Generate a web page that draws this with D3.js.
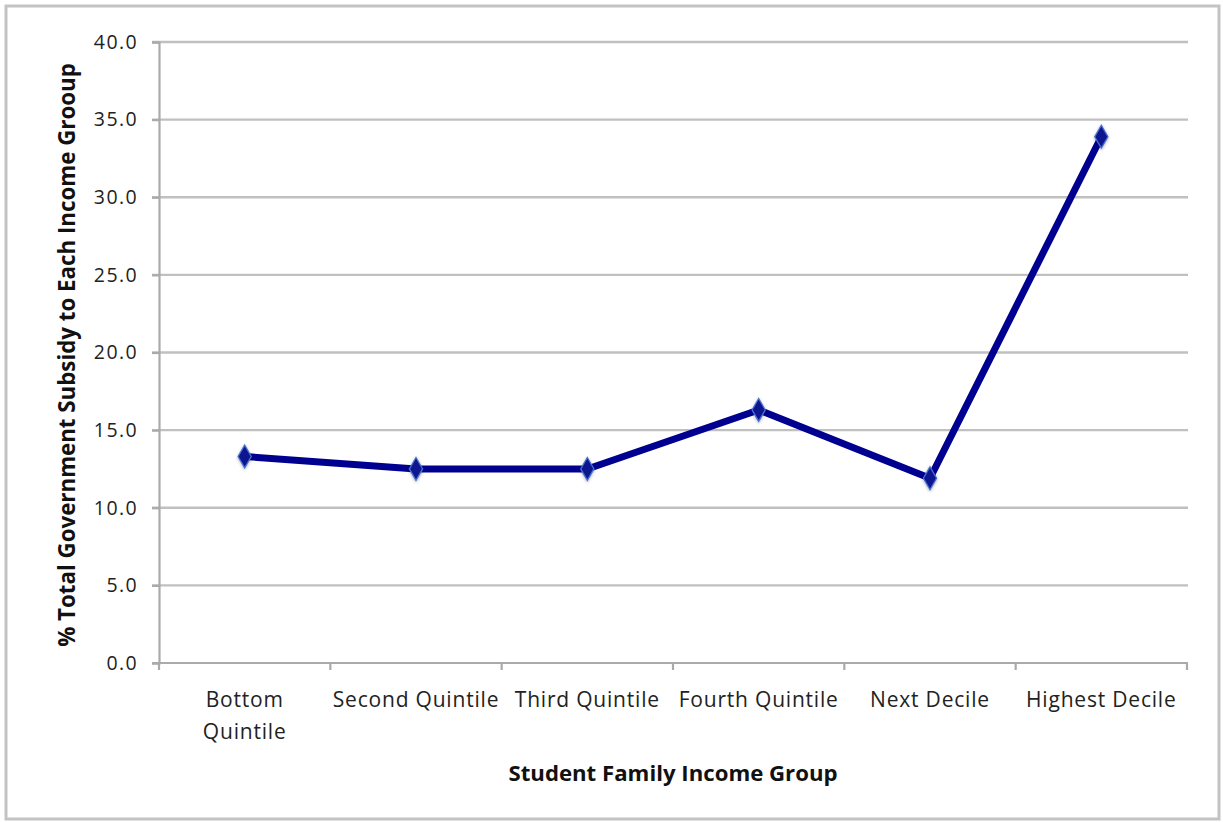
<!DOCTYPE html>
<html>
<head>
<meta charset="utf-8">
<script src="https://cdn.jsdelivr.net/npm/d3@7"></script>
<style>
  html, body { margin: 0; padding: 0; background: #fff; }
  svg { display: block; font-family: "Open Sans", sans-serif; }
</style>
</head>
<body>
<svg id="chart" width="1223" height="822"></svg>
<script>
const categories = ["Bottom Quintile", "Second Quintile", "Third Quintile", "Fourth Quintile", "Next Decile", "Highest Decile"];
const categoryLines = [["Bottom", "Quintile"], ["Second Quintile"], ["Third Quintile"], ["Fourth Quintile"], ["Next Decile"], ["Highest Decile"]];
const values = [13.3, 12.5, 12.5, 16.3, 11.9, 33.9];
const yTicks = [0, 5, 10, 15, 20, 25, 30, 35, 40];
const xTitle = "Student Family Income Group";
const yTitle = "% Total Government Subsidy to Each Income Grooup";

const svg = d3.select("#chart");
const W = 1223, H = 822;
const m = { left: 159, right: 1187, top: 42, bottom: 663 };

// outer frame
svg.append("rect").attr("x", 6).attr("y", 6).attr("width", W - 10).attr("height", H - 9)
  .attr("fill", "#fff").attr("stroke", "#c3c3c3").attr("stroke-width", 3);

const x = d3.scaleBand().domain(categories).range([m.left, m.right]).padding(0);
const y = d3.scaleLinear().domain([0, 40]).range([m.bottom, m.top]);

// gridlines
svg.append("g").selectAll("line").data(yTicks.filter(d => d > 0)).join("line")
  .attr("x1", m.left - 7).attr("x2", m.right + 1)
  .attr("y1", d => y(d)).attr("y2", d => y(d))
  .attr("stroke", "#c0c0c0").attr("stroke-width", 2.4);

// y axis
const yAxis = svg.append("g").attr("transform", `translate(${m.left},0)`)
  .call(d3.axisLeft(y).tickValues(yTicks).tickFormat(d3.format(".1f")).tickSize(7).tickPadding(14));
yAxis.select(".domain").attr("stroke", "#aaaaaa").attr("stroke-width", 2.2);
yAxis.selectAll(".tick line").attr("stroke", "#aaaaaa").attr("stroke-width", 2.2);
yAxis.selectAll(".tick text").attr("font-size", 19.5).attr("fill", "#222")
  .attr("letter-spacing", 1.4).attr("font-family", "'Open Sans', sans-serif");

// x axis
const xAxis = svg.append("g").attr("transform", `translate(0,${m.bottom})`);
xAxis.append("line").attr("x1", m.left - 7).attr("x2", m.right + 1)
  .attr("y1", 0).attr("y2", 0).attr("stroke", "#aaaaaa").attr("stroke-width", 2.2);
const bounds = categories.map(c => x(c)).concat([x(categories[categories.length - 1]) + x.bandwidth()]);
xAxis.selectAll("line.tk").data(bounds).join("line").attr("class", "tk")
  .attr("x1", d => d).attr("x2", d => d).attr("y1", 0).attr("y2", 7)
  .attr("stroke", "#aaaaaa").attr("stroke-width", 2.2);
const xl = xAxis.selectAll("text.cat").data(categories).join("text").attr("class", "cat")
  .attr("x", d => x(d) + x.bandwidth() / 2).attr("y", 44)
  .attr("text-anchor", "middle").attr("font-size", 21).attr("letter-spacing", 0.8).attr("fill", "#222");
xl.each(function(d, i) {
  const t = d3.select(this);
  categoryLines[i].forEach((ln, j) => {
    t.append("tspan").attr("x", x(d) + x.bandwidth() / 2).attr("dy", j === 0 ? 0 : 32).text(ln);
  });
});

// axis titles
svg.append("text").attr("x", 673).attr("y", 781)
  .attr("text-anchor", "middle").attr("font-size", 22.2).attr("font-weight", "bold")
  .attr("fill", "#111").text(xTitle);
svg.append("text").attr("transform", `translate(75,355) rotate(-90)`)
  .attr("text-anchor", "middle").attr("font-size", 22.3).attr("font-weight", "bold")
  .attr("fill", "#111").text(yTitle);

// line
const cx = d => x(d) + x.bandwidth() / 2;
const line = d3.line().x((d, i) => cx(categories[i])).y(d => y(d));
svg.append("path").datum(values).attr("d", line)
  .attr("fill", "none").attr("stroke", "#000090").attr("stroke-width", 7)
  .attr("stroke-linejoin", "round");

// markers
const defs = svg.append("defs");
const f = defs.append("filter").attr("id", "sh").attr("x", "-50%").attr("y", "-50%").attr("width", "200%").attr("height", "200%");
f.append("feDropShadow").attr("dx", 0).attr("dy", 1).attr("stdDeviation", 1.5).attr("flood-color", "#000").attr("flood-opacity", 0.3);
svg.append("g").selectAll("path").data(values).join("path")
  .attr("transform", (d, i) => `translate(${cx(categories[i])},${y(d)})`)
  .attr("d", d3.symbol().type(d3.symbolDiamond).size(150))
  .attr("fill", "#08158f").attr("stroke", "#4a6fd0").attr("stroke-width", 1.3)
  .attr("filter", "url(#sh)");
</script>
</body>
</html>
